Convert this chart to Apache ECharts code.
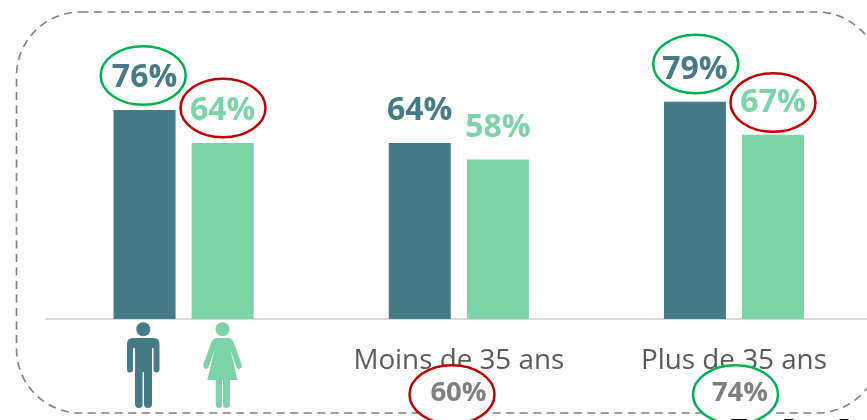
<!DOCTYPE html>
<html><head><meta charset="utf-8">
<style>html,body{margin:0;padding:0;background:#fff}#c{width:867px;height:420px}</style>
<script src="https://cdn.jsdelivr.net/npm/echarts@6/dist/echarts.min.js"></script>
</head><body><div id="c"></div>
<script>
const categories = ['', 'Moins de 35 ans', 'Plus de 35 ans'];
const hommes = [76, 64, 79];
const femmes = [64, 58, 67];
const totals = ['', '60%', '74%'];
const DARK = '#457B86', LIGHT = '#7DD3A8', GREEN = '#00B050', RED = '#C00000';
const MAN = 'M133 338H153.5Q159.5 338 159.5 344V369Q159.5 372.5 156.5 372.5Q153.5 372.5 153.5 369V348H152V404Q152 408 148 408Q144 408 144 404V372H142.6V404Q142.6 408 139 408Q135 408 135 404V348H133V369Q133 372.5 130 372.5Q127 372.5 127 369V344Q127 338 133 338Z';
const WOMAN = 'M217 338H228Q232 338 234 343L241.5 364Q242.5 368 239.5 369Q237.5 369.5 236.5 367L230.5 350L237.5 380H230V404Q230 408 226.5 408Q223 408 223 404V380H222V404Q222 408 218.8 408Q215.7 408 215.7 404V380H207.3L214.5 350L208.5 367Q207.5 369.5 205.5 369Q202.5 368 203.5 364L211 343Q213 338 217 338Z';
const chart = echarts.init(document.getElementById('c'), null, {renderer:'canvas'});
const ell = (cx, cy, color, fill) => ({type:'ellipse', z:20, shape:{cx, cy, rx:42.5, ry:29.3},
  style:{fill: fill || 'none', stroke:color, lineWidth:2.5}});
const totalText = (x, t) => ({type:'text', z:30, style:{x, y:393, text:t, align:'center', verticalAlign:'middle',
  font:'bold 27.5px "Open Sans"', fill:'#7F7F7F'}});
const cutText = (x, t) => ({type:'text', z:30, style:{x, y:430, text:t, align:'center', verticalAlign:'middle',
  font:'bold 28px "Liberation Serif"', fill:'#000'}});
const mkLabel = c => ({show:true, position:'top', distance:16, color:c, fontFamily:'Open Sans', fontWeight:'bold', fontSize:32,
  formatter:p => p.value + '%'});
chart.setOption({
  animation:false,
  grid:{left:46, top:44, width:825.6, height:275, outerBoundsMode:'none'},
  xAxis:{type:'category', data:categories,
    axisLine:{lineStyle:{color:'#D9D9D9', width:2}}, axisTick:{show:false},
    axisLabel:{color:'#595959', fontFamily:'Open Sans', fontSize:27.8, margin:28, interval:0}},
  yAxis:{type:'value', min:0, max:100, show:false, splitLine:{show:false}},
  series:[
    {name:'Hommes', type:'bar', data:hommes, barWidth:62, barGap:'26%', itemStyle:{color:DARK}, label:mkLabel(DARK)},
    {name:'Femmes', type:'bar', data:femmes, barWidth:62, itemStyle:{color:LIGHT}, label:mkLabel(LIGHT)},
    {type:'custom', coordinateSystem:'none', data:[[0]], silent:true, clip:false,
      renderItem:() => ({type:'group', children:[
        {type:'path', shape:{pathData:MAN}, style:{fill:DARK}},
        {type:'path', shape:{pathData:WOMAN}, style:{fill:LIGHT}}
      ]})}
  ],
  graphic:[
    {type:'rect', z:10, shape:{x:16.5, y:12, width:864, height:401, r:64},
      style:{fill:'none', stroke:'#7F7F7F', lineWidth:1.6, lineDash:[8,5.5]}},
    ell(143.2, 75.5, GREEN), ell(223, 108, RED), ell(695.7, 64, GREEN), ell(773, 102.5, RED),
    ell(452, 394.5, RED, '#fff'), ell(735.5, 394.5, GREEN, '#fff'),
    totalText(458.5, totals[1]), totalText(740, totals[2]),
    cutText(740, 'E'), cutText(789, 'I'), cutText(844, 'I'),
    {type:'circle', z:15, shape:{cx:143.3, cy:329.3, r:7}, style:{fill:DARK}},
    {type:'circle', z:15, shape:{cx:222.5, cy:329.3, r:7}, style:{fill:LIGHT}}
  ]
});
</script></body></html>
